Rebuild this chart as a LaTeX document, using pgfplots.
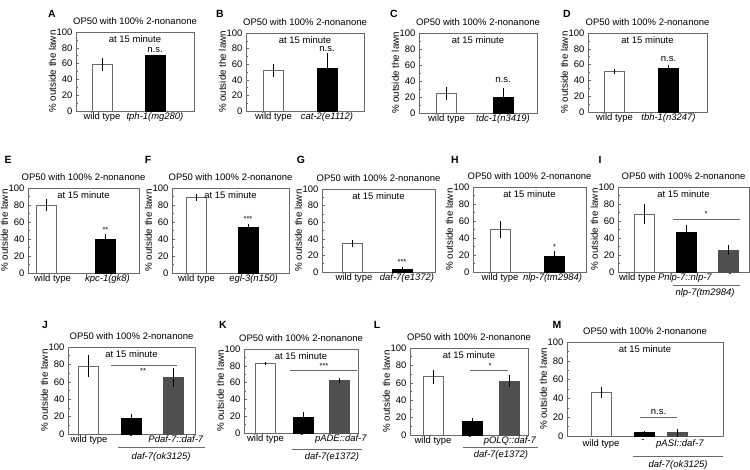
\documentclass[border=0pt]{standalone}
\usepackage{fontspec}
\setmainfont{Liberation Sans}
\usepackage{pgfplots}
\pgfplotsset{compat=1.18}
\definecolor{axgray}{HTML}{6A6A6A}
\definecolor{bargray}{HTML}{505050}
\newcommand{\fs}{\fontsize{9.5}{10}\selectfont}
\pgfplotsset{
 panel/.style={
  scale only axis, anchor=north west, clip=false,
  xmin=0, ymin=0, ymax=100,
  ytick={0,20,...,100}, minor ytick={10,30,...,90},
  ytick pos=left, tick align=inside,
  major tick length=3bp, minor tick length=2bp,
  tick style={axgray, line width=0.5pt},
  xtick style={draw=none},
  axis line style={axgray, line width=0.8pt},
  tick label style={font=\fs},
  /pgf/number format/assume math mode=true,
  ylabel={\% outside the lawn},
  ylabel style={font=\fontsize{9.8}{10}\selectfont, yshift=-6bp},
  title={OP50 with 100\% 2-nonanone},
  title style={font=\fs, yshift=-2.5bp},
  xticklabel style={yshift=1.5bp},
 },
 wt/.style={ybar, bar width=20, bar shift=0pt, fill=white, draw=axgray, line width=0.8pt,
   error bars/.cd, y dir=both, y explicit, error mark=none, error bar style={black, line width=0.6pt}},
 mu/.style={ybar, bar width=20, bar shift=0pt, fill=black, draw=black, line width=0.6pt,
   error bars/.cd, y dir=both, y explicit, error mark=none, error bar style={black, line width=0.6pt}},
 re/.style={ybar, bar width=20, bar shift=0pt, fill=bargray, draw=bargray, line width=0.6pt,
   error bars/.cd, y dir=both, y explicit, error mark=none, error bar style={black, line width=0.6pt}},
}
\newcommand{\atmin}{\node[font=\fs, anchor=north, inner sep=0pt] at ([yshift=-3bp]rel axis cs:0.5,1) {at 15 minute};}
\newcommand{\sigtxt}[3]{\node[font=\fs, anchor=south, inner sep=1.5bp] at (axis cs:#1,#2) {#3};}
\newcommand{\sigstar}[3]{\node[font=\fontsize{7.5}{8}\selectfont, anchor=south, inner sep=1.5bp] at (axis cs:#1,#2) {#3};}
\newcommand{\sigline}[3]{\draw[axgray, line width=0.7pt] (axis cs:#1,#3) -- (axis cs:#2,#3);}
\newcommand{\grp}[6]{\draw[axgray, line width=0.7pt] ([yshift=-#3bp]axis cs:#1,0) -- ([yshift=-#3bp]axis cs:#2,0);
 \node[font=\fs\itshape, anchor=center] at ([yshift=-#5bp]axis cs:#4,0) {#6};}
\newcommand{\plab}[3]{\node[font=\bfseries\fontsize{10.5}{11}\selectfont] at (#1bp,-#2bp) {#3};}
\begin{document}
\begin{tikzpicture}
\useasboundingbox (0,0) rectangle (750bp,-470bp);
\plab{52}{14}{A}\plab{220}{14}{B}\plab{394}{14}{C}\plab{567}{14}{D}
\plab{8}{160}{E}\plab{148}{160}{F}\plab{301}{160}{G}\plab{455}{160}{H}\plab{600}{160}{I}
\plab{45}{325}{J}\plab{223}{325}{K}\plab{377}{325}{L}\plab{557}{325}{M}

% A
\begin{axis}[panel, at={(76bp,-32bp)}, width=118bp, height=79bp, xmax=118,
  xtick={26,79}, xticklabels={wild type,\textit{tph-1(mg280)}}]
\addplot[wt] coordinates {(26,59) +- (0,8)};
\addplot[mu] coordinates {(79,71) +- (0,0)};
\atmin \sigtxt{79}{72}{n.s.}
\end{axis}
% B
\begin{axis}[panel, at={(246bp,-33bp)}, width=118bp, height=78bp, xmax=118,
  xtick={27.5,81}, xticklabels={wild type,\textit{cat-2(e1112)}}]
\addplot[wt] coordinates {(27.5,52) +- (0,8.5)};
\addplot[mu] coordinates {(81,55) +- (0,19)};
\atmin \sigtxt{81}{74}{n.s.}
\end{axis}
% C
\begin{axis}[panel, at={(419bp,-33bp)}, width=118bp, height=80bp, xmax=118,
  xtick={27.5,84}, xticklabels={wild type,\textit{tdc-1(n3419)}}]
\addplot[wt] coordinates {(27.5,24) +- (0,8)};
\addplot[mu] coordinates {(84,20) +- (0,11)};
\atmin \sigtxt{84}{36}{n.s.}
\end{axis}
% D
\begin{axis}[panel, at={(588bp,-33bp)}, width=119bp, height=79bp, xmax=119,
  xtick={26.5,80.5}, xticklabels={wild type,\textit{tbh-1(n3247)}}]
\addplot[wt] coordinates {(26.5,51) +- (0,3)};
\addplot[mu] coordinates {(80.5,55) +- (0,5)};
\atmin \sigtxt{80.5}{62}{n.s.}
\end{axis}

% E
\begin{axis}[panel, at={(28bp,-188bp)}, width=111bp, height=85bp, xmax=111,
  xtick={24.5,79.5}, xticklabels={wild type,\textit{kpc-1(gk8)}}]
\addplot[wt] coordinates {(18,80) +- (0,7.5)};
\addplot[mu] coordinates {(77.5,40) +- (0,5.5)};
\atmin \sigstar{77.5}{46}{**}
\end{axis}
% F
\begin{axis}[panel, at={(172bp,-188bp)}, width=117bp, height=85bp, xmax=117,
  xtick={24.5,81.5}, xticklabels={wild type,\textit{egl-3(n150)}}]
\addplot[wt] coordinates {(24.5,89) +- (0,4.5)};
\addplot[mu] coordinates {(76,54) +- (0,4)};
\atmin \sigstar{76}{58.5}{***}
\end{axis}
% G
\begin{axis}[panel, at={(322bp,-189bp)}, width=113bp, height=83bp, xmax=113,
  xtick={32,85}, xticklabels={wild type,\textit{daf-7(e1372)}}]
\addplot[wt] coordinates {(30,34) +- (0,4)};
\addplot[mu] coordinates {(80,3) +- (0,3)};
\atmin \sigstar{80}{6.5}{***}
\end{axis}
% H
\begin{axis}[panel, at={(473bp,-187bp)}, width=113bp, height=85bp, xmax=113,
  xtick={27,79.5}, xticklabels={wild type,\textit{nlp-7(tm2984)}}]
\addplot[wt] coordinates {(27.5,50) +- (0,10)};
\addplot[mu] coordinates {(81.5,19) +- (0,5.5)};
\atmin \sigstar{81.5}{25}{*}
\end{axis}
% I
\begin{axis}[panel, at={(618bp,-187bp)}, width=131bp, height=85bp, xmax=131,
  xtick={19.5,67,112}, xticklabels={wild type,\textit{Pnlp-7::nlp-7},-}]
\addplot[wt] coordinates {(26,68) +- (0,12)};
\addplot[mu] coordinates {(68.5,47) +- (0,8)};
\addplot[re] coordinates {(110.5,25.7) +- (0,6)};
\atmin \sigline{55}{122}{62.5} \sigstar{88}{63}{*}
\grp{55}{122}{13}{87}{21}{nlp-7(tm2984)}
\end{axis}

% J
\begin{axis}[panel, at={(68bp,-347bp)}, width=127bp, height=87bp, xmax=127,
  xtick={21,63,108}, xticklabels={wild type,-,\textit{Pdaf-7::daf-7}}]
\addplot[wt] coordinates {(20.7,78) +- (0,12.5)};
\addplot[mu] coordinates {(63,18) +- (0,5)};
\addplot[re] coordinates {(105,65) +- (0,11)};
\atmin \sigline{43}{109}{79} \sigstar{75}{68}{**}
\grp{50}{137}{13}{93}{23}{daf-7(ok3125)}
\end{axis}
% K
\begin{axis}[panel, at={(244bp,-349bp)}, width=114bp, height=84bp, xmax=114,
  xtick={21.5,58,97}, xticklabels={wild type,-,\textit{pADE::daf-7}}]
\addplot[wt] coordinates {(21.5,83) +- (0,2)};
\addplot[mu] coordinates {(59,19) +- (0,5.5)};
\addplot[re] coordinates {(95.5,63) +- (0,3)};
\atmin \sigline{46}{113}{74.5} \sigstar{80}{75}{***}
\grp{48}{118}{16}{88}{24}{daf-7(e1372)}
\end{axis}
% L
\begin{axis}[panel, at={(410bp,-348bp)}, width=118bp, height=87bp, xmax=118,
  xtick={23,60,100}, xticklabels={wild type,-,\textit{pOLQ::daf-7}}]
\addplot[wt] coordinates {(23,67) +- (0,8)};
\addplot[mu] coordinates {(62,16) +- (0,3)};
\addplot[re] coordinates {(99,62) +- (0,7)};
\atmin \sigline{60}{98}{74} \sigstar{80}{74.5}{*}
\grp{53}{128}{12}{91}{20}{daf-7(e1372)}
\end{axis}
% M
\begin{axis}[panel, at={(567bp,-342bp)}, width=156bp, height=94bp, xmax=156,
  xtick={34,76,113}, xticklabels={wild type,-,\textit{pASI::daf-7}},
  xticklabel style={yshift=-2bp}]
\addplot[wt] coordinates {(34.5,46.6) +- (0,6)};
\addplot[mu] coordinates {(77,3.5) +- (0,1.5)};
\addplot[re] coordinates {(110,3.5) +- (0,4.3)};
\atmin \sigline{73}{110}{20} \sigtxt{91.5}{20.5}{n.s.}
\grp{66}{156}{20}{111}{29}{daf-7(ok3125)}
\end{axis}
\end{tikzpicture}
\end{document}
